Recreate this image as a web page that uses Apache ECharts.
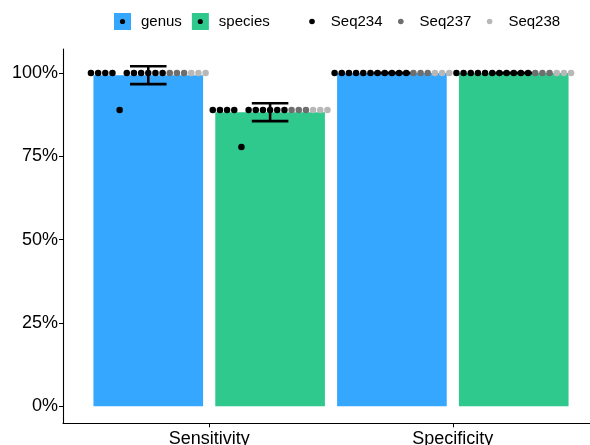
<!DOCTYPE html>
<html>
<head>
<meta charset="utf-8">
<script src="https://cdn.jsdelivr.net/npm/echarts@6/dist/echarts.min.js"></script>
<style>
  html, body { margin: 0; padding: 0; background: #fff; }
  #chart { width: 590px; height: 445px; }
</style>
</head>
<body>
<div id="chart"></div>
<script>
// ---- data ----
const categories = ['Sensitivity', 'Specificity'];
const fillGroups = ['genus', 'species'];
const seqNames = ['Seq234', 'Seq237', 'Seq238'];
const sampleSeq = ['Seq234','Seq234','Seq234','Seq234','Seq234','Seq234','Seq234','Seq234','Seq234','Seq234','Seq234',
                   'Seq237','Seq237','Seq237','Seq238','Seq238','Seq238'];
const genusSensitivity   = [100,100,100,100,88.9,100,100,100,100,100,100,100,100,100,100,100,100];
const speciesSensitivity = [88.9,88.9,88.9,88.9,77.8,88.9,88.9,88.9,88.9,88.9,88.9,88.9,88.9,88.9,88.9,88.9,88.9];
const genusSpecificity   = [100,100,100,100,100,100,100,100,100,100,100,100,100,100,100,100,100];
const speciesSpecificity = [100,100,100,100,100,100,100,100,100,100,100,100,100,100,100,100,100];
const yTicks = [0, 25, 50, 75, 100];

// ---- styles ----
const fillColors = ['#35A7FF', '#2FC98D'];
const seqColors = ['#000000', '#6E6E6E', '#B8B8B8'];
const FONT = 'Liberation Sans, Arial, sans-serif';

const valuesByGroup = [[genusSensitivity, genusSpecificity], [speciesSensitivity, speciesSpecificity]];

function mean(a) { return a.reduce((s, v) => s + v, 0) / a.length; }
function sd(a) { const m = mean(a); return Math.sqrt(a.reduce((s, v) => s + (v - m) * (v - m), 0) / (a.length - 1)); }

const BAR_W = 0.45, DODGE = 0.5, DOT_SPAN = 0.5, EB_W = 0.15;

function groupX(c, g) { return (c + 1) + (g - 0.5) * DODGE; }

const series = [];
fillGroups.forEach((name, g) => {
  const data = categories.map((cat, c) => [groupX(c, g), mean(valuesByGroup[g][c])]);
  series.push({
    name: name,
    type: 'custom',
    itemStyle: { color: fillColors[g] },
    z: 1,
    renderItem: function (params, api) {
      const x = api.value(0), y = api.value(1);
      const p0 = api.coord([x - BAR_W / 2, y]);
      const p1 = api.coord([x + BAR_W / 2, 0]);
      return { type: 'rect', shape: { x: p0[0], y: p0[1], width: p1[0] - p0[0], height: p1[1] - p0[1] },
               style: { fill: fillColors[g] } };
    },
    encode: { x: 0, y: 1 },
    data: data
  });
});

// error bars (mean +/- sd)
const ebData = [];
fillGroups.forEach((name, g) => {
  categories.forEach((cat, c) => {
    const v = valuesByGroup[g][c];
    const m = mean(v), s = sd(v);
    ebData.push([groupX(c, g), m, m - s, m + s]);
  });
});
series.push({
  type: 'custom',
  z: 3,
  silent: true,
  renderItem: function (params, api) {
    const x = api.value(0), lo = api.value(2), hi = api.value(3);
    const a = api.coord([x, lo]), b = api.coord([x, hi]);
    const l = api.coord([x - EB_W / 2, lo]), r = api.coord([x + EB_W / 2, lo]);
    const lt = api.coord([x - EB_W / 2, hi]), rt = api.coord([x + EB_W / 2, hi]);
    const st = { stroke: '#000', lineWidth: 2.6 };
    return { type: 'group', children: [
      { type: 'line', shape: { x1: a[0], y1: a[1], x2: b[0], y2: b[1] }, style: st },
      { type: 'line', shape: { x1: l[0], y1: l[1], x2: r[0], y2: r[1] }, style: st },
      { type: 'line', shape: { x1: lt[0], y1: lt[1], x2: rt[0], y2: rt[1] }, style: st }
    ] };
  },
  encode: { x: 0, y: [2, 3] },
  data: ebData
});

// dots
seqNames.forEach((sname, k) => {
  const data = [];
  fillGroups.forEach((gname, g) => {
    categories.forEach((cat, c) => {
      const vals = valuesByGroup[g][c];
      const n = vals.length;
      vals.forEach((v, i) => {
        if (sampleSeq[i] !== sname) return;
        data.push([groupX(c, g) + (i - (n - 1) / 2) * DOT_SPAN / n, v]);
      });
    });
  });
  series.push({
    name: sname,
    type: 'scatter',
    symbol: 'circle',
    symbolSize: 6.5,
    itemStyle: { color: seqColors[k], opacity: 1 },
    z: 2,
    data: data
  });
});

const chart = echarts.init(document.getElementById('chart'), null, { renderer: 'canvas' });
chart.setOption({
  animation: false,
  backgroundColor: '#fff',
  grid: { left: 63, right: 0, top: 49, bottom: 21.7, containLabel: false, outerBoundsMode: 'none' },
  legend: [
    { data: fillGroups, left: 114, top: 13, padding: 0, icon: 'rect', itemWidth: 17, itemHeight: 17, itemGap: 10,
      textStyle: { fontFamily: FONT, fontSize: 15, color: '#000', padding: [0, 0, 0, 5], lineHeight: 17 } },
    { data: seqNames, left: 309.2, top: 13, padding: 0, icon: 'circle', itemWidth: 5.6, itemHeight: 5.6, itemGap: 15.5,
      textStyle: { fontFamily: FONT, fontSize: 15, color: '#000', padding: [0, 0, 0, 11], lineHeight: 17 } }
  ],
  graphic: [
    { type: 'circle', shape: { cx: 122.5, cy: 21.5, r: 2.6 }, style: { fill: '#000' }, z: 100 },
    { type: 'circle', shape: { cx: 200.3, cy: 21.5, r: 2.6 }, style: { fill: '#000' }, z: 100 }
  ],
  xAxis: {
    type: 'value', min: 0.4, max: 2.563,
    splitLine: { show: false },
    axisLine: { show: true, onZero: false, lineStyle: { color: '#000', width: 1.1 } },
    axisTick: { show: true, customValues: [1, 2], length: 4, lineStyle: { color: '#000' } },
    axisLabel: { customValues: [1, 2], formatter: v => categories[Math.round(v) - 1],
                 fontFamily: FONT, fontSize: 18, color: '#000', margin: 7 }
  },
  yAxis: {
    type: 'value', min: -5.1, max: 107.2,
    splitLine: { show: false },
    axisLine: { show: true, onZero: false, lineStyle: { color: '#000', width: 1.1 } },
    axisTick: { show: true, customValues: yTicks, length: 4, lineStyle: { color: '#000' } },
    axisLabel: { customValues: yTicks, formatter: v => v + '%',
                 fontFamily: FONT, fontSize: 18, color: '#000', margin: 5 }
  },
  series: series
});
</script>
</body>
</html>
